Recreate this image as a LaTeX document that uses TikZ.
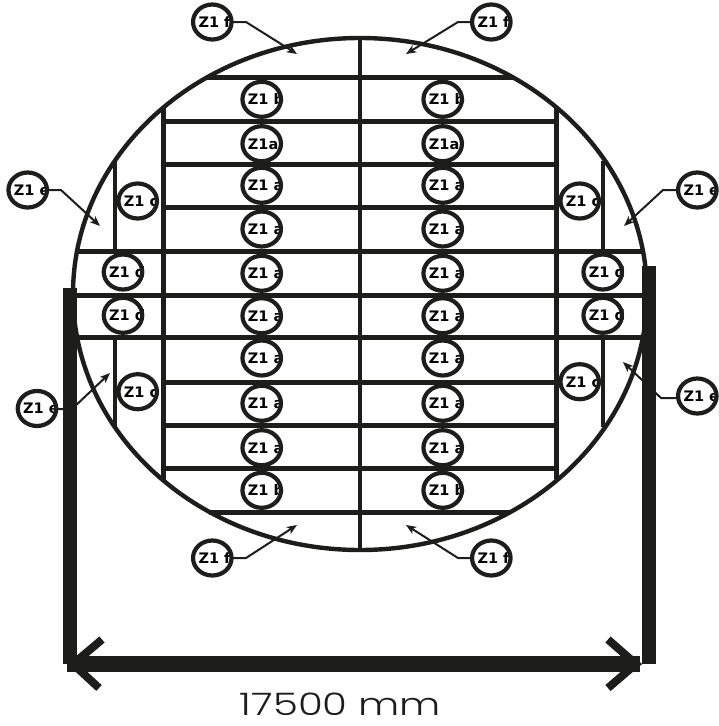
\documentclass[tikz,border=0pt]{standalone}
\usepackage{fontspec}
\setmainfont{DejaVu Sans}
\newfontfamily\dimfont{Poppins Light}
\usetikzlibrary{shapes.geometric,arrows.meta,calc}
\definecolor{ink}{HTML}{1D1D1B}
\tikzset{
  grid line/.style={draw=ink,line width=4.4pt},
  thin wall/.style={draw=ink,line width=4pt},
  shell/.style={draw=ink,line width=4.4pt},
  bar/.style={draw=ink,line width=14pt},
  dimline/.style={draw=ink,line width=16pt},
  barb/.style={draw=ink,line width=8pt,miter limit=10},
  pointer/.style={draw=ink,line width=2pt,-{Stealth[length=10pt,width=8pt,inset=2.5pt]}},
  tagfill/.style={ellipse,fill=white,inner sep=0pt,outer sep=0pt,minimum width=38.5pt,minimum height=35pt},
  tagring/.style={ellipse,draw=ink,line width=4.2pt,inner sep=0pt,outer sep=0pt,minimum width=38.5pt,minimum height=35pt},
  tagtext/.style={anchor=base west,inner sep=0pt,font=\fontsize{14.5pt}{15pt}\selectfont\bfseries,text=black},
}
% name, x, y, text
\newcommand\ztag[4]{%
  \node[tagfill] (#1) at (#2,#3) {};
  \node[tagtext] (#1t) at ($(#2,#3)+(-14,5.3)$) {#4};
  \node[tagring] (#1r) at (#2,#3) {};
}
\begin{document}
\begin{tikzpicture}[x=1pt,y=-1pt]
\useasboundingbox (0,0) rectangle (718,726);
% shell
\draw[shell] (360,294) ellipse [x radius=287,y radius=256];
% centre wall and side walls
\draw[thin wall] (360,38) -- (360,550);
\draw[grid line] (163.5,108) -- (163.5,480);
\draw[grid line] (556.5,108) -- (556.5,479);
\draw[thin wall] (114.5,161) -- (114.5,251);
\draw[thin wall] (114.5,337) -- (114.5,427);
\draw[thin wall] (603.3,161) -- (603.3,251);
\draw[thin wall] (603.3,337) -- (603.3,427);
% horizontals
\draw[grid line] (206,77.3) -- (514,77.3);
\draw[grid line] (163.5,121.3) -- (556.5,121.3);
\draw[grid line] (163.5,164.3) -- (556.5,164.3);
\draw[grid line] (163.5,207.3) -- (556.5,207.3);
\draw[grid line] (78,251.3) -- (641,251.3);
\draw[grid line] (74,295.3) -- (645,295.3);
\draw[grid line] (76,337.3) -- (643,337.3);
\draw[grid line] (163.5,382.3) -- (556.5,382.3);
\draw[grid line] (163.5,425.3) -- (556.5,425.3);
\draw[grid line] (163.5,468.3) -- (556.5,468.3);
\draw[grid line] (209,512.5) -- (510,512.5);
% tags
\ztag{fa}{212.3}{22}{Z1 f}
\ztag{fb}{491.3}{22}{Z1 f}
\ztag{fc}{212.3}{558}{Z1 f}
\ztag{fd}{491.3}{558}{Z1 f}
\ztag{ea}{27.7}{190}{Z1 e}
\ztag{eb}{697.3}{190}{Z1 e}
\ztag{ec}{37}{408.5}{Z1 e}
\ztag{ed}{697.3}{396}{Z1 e}
\ztag{ca}{137.7}{201}{Z1 c}
\ztag{cb}{579.7}{201}{Z1 c}
\ztag{cc}{137.7}{391.7}{Z1 c}
\ztag{cd}{579.7}{381.7}{Z1 c}
\ztag{da}{123}{272}{Z1 d}
\ztag{db}{123}{315.3}{Z1 d}
\ztag{dc}{602.7}{272}{Z1 d}
\ztag{dd}{602.7}{315.3}{Z1 d}
\ztag{la1}{261.7}{99.3}{Z1 b}
\ztag{la2}{261.7}{143.7}{Z1a}
\ztag{la3}{261.7}{185.3}{Z1 a}
\ztag{la4}{261.7}{229}{Z1 a}
\ztag{la5}{261.7}{273.3}{Z1 a}
\ztag{la6}{261.7}{315.7}{Z1 a}
\ztag{la7}{261.7}{358}{Z1 a}
\ztag{la8}{261.7}{403.3}{Z1 a}
\ztag{la9}{261.7}{447.7}{Z1 a}
\ztag{la10}{261.7}{490.3}{Z1 b}
\ztag{ra1}{442.7}{99.3}{Z1 b}
\ztag{ra2}{442.7}{143.7}{Z1a}
\ztag{ra3}{442.7}{185.3}{Z1 a}
\ztag{ra4}{442.7}{229}{Z1 a}
\ztag{ra5}{442.7}{273.3}{Z1 a}
\ztag{ra6}{442.7}{315.7}{Z1 a}
\ztag{ra7}{442.7}{358}{Z1 a}
\ztag{ra8}{442.7}{403.3}{Z1 a}
\ztag{ra9}{442.7}{447.7}{Z1 a}
\ztag{ra10}{442.7}{490.3}{Z1 b}
% pointers
\coordinate (p1) at (246,22);   \coordinate (t1) at (297,54);
\coordinate (p2) at (458,22);   \coordinate (t2) at (406,54);
\coordinate (p3) at (246,558);  \coordinate (t3) at (297,525);
\coordinate (p4) at (458,558);  \coordinate (t4) at (406,525);
\coordinate (p5) at (61,190);   \coordinate (t5) at (100,226);
\coordinate (p6) at (663,190);  \coordinate (t6) at (624,226);
\coordinate (p7) at (72,409);   \coordinate (t7) at (110,373);
\coordinate (p8) at (661,398);  \coordinate (t8) at (623,362);
\draw[pointer] (fa.east) -- (p1) -- (t1);
\draw[pointer] (fb.west) -- (p2) -- (t2);
\draw[pointer] (fc.east) -- (p3) -- (t3);
\draw[pointer] (fd.west) -- (p4) -- (t4);
\draw[pointer] (ea.east) -- (p5) -- (t5);
\draw[pointer] (eb.west) -- (p6) -- (t6);
\draw[pointer] (ec.east |- p7) -- (p7) -- (t7);
\draw[pointer] (ed.west |- p8) -- (p8) -- (t8);
% dimension
\coordinate (barLtop) at (70,288);  \coordinate (barL) at (70,664);
\coordinate (barRtop) at (649,266); \coordinate (barR) at (649,664);
\coordinate (dimL) at (67,664); \coordinate (dimR) at (640,664);
\coordinate (lu) at (102,639.5); \coordinate (ld) at (99,688);
\coordinate (ru) at (608,639.5); \coordinate (rd) at (608,688);
\coordinate (lt) at (73,664); \coordinate (rt) at (636,664);
\draw[bar] (barLtop) -- (barL);
\draw[bar] (barRtop) -- (barR);
\draw[dimline] (dimL) -- (dimR);
\draw[barb] (lu) -- (lt) -- (ld);
\draw[barb] (ru) -- (rt) -- (rd);
\node[anchor=base,inner sep=0pt,font=\dimfont\fontsize{31pt}{33pt}\selectfont,text=ink,xscale=1.3] (dimtext) at (340.5,715) {17500 mm};
\end{tikzpicture}
\end{document}
